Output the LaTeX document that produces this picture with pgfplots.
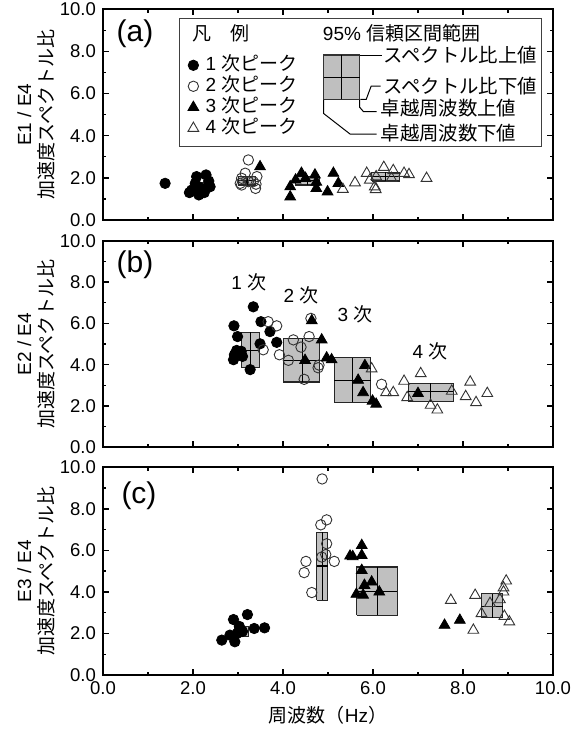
\documentclass[border=0pt]{standalone}
\usepackage{fontspec}
\setmainfont{Liberation Sans}
\newfontfamily\jp{Noto Sans CJK JP}
\usepackage{pgfplots}
\pgfplotsset{compat=1.18}

\pgfplotsset{
  panel/.style={
    width=225pt, scale only axis, xmin=0, xmax=10, ymin=0, ymax=10,
    xtick={0,2,...,10}, ytick={0,2,...,10}, minor x tick num=1, minor y tick num=1,
    tick align=inside, major tick length=3pt, minor tick length=1.6pt,
    axis line style={line width=0.9pt},
    every tick/.append style={black, line width=0.7pt},
    /pgf/number format/fixed, /pgf/number format/fixed zerofill,
    /pgf/number format/precision=1, /pgf/number format/assume math mode=true,
    tick label style={font=\fontsize{9.25}{10}\selectfont},
    ylabel style={at={(axis description cs:-0.149,0.5)}, anchor=center, align=center,
      font=\fontsize{9.5}{11}\selectfont},
  },
  pA/.style={only marks, mark=*, mark size=2.6pt, draw=black, fill=black},
  pB/.style={only marks, mark=o, mark size=2.6pt, draw=black!80, mark options={line width=0.45pt}},
  pC/.style={only marks, mark=triangle*, mark size=3.1pt, draw=black, fill=black},
  pD/.style={only marks, mark=triangle, mark size=3.1pt, draw=black!80, mark options={line width=0.45pt}},
  boxfill/.style={forget plot, mark=none, draw=black!85, line width=0.55pt,
    fill=black!38, fill opacity=0.65},
  boxline/.style={forget plot, mark=none, draw=black, line width=0.55pt},
}
\newcommand{\cibox}[6]{%
  \addplot[boxfill] coordinates {(#1,#3) (#2,#3) (#2,#4) (#1,#4) (#1,#3)};
  \addplot[boxline] coordinates {(#5,#3) (#5,#4)};
  \addplot[boxline] coordinates {(#1,#6) (#2,#6)};
}

\begin{document}
\begin{tikzpicture}
\path[use as bounding box] (0,0) rectangle (289.5pt,-364.5pt);

% ---------------- panel (a)
\begin{axis}[panel, at={(51.5pt,-110pt)}, anchor=south west, height=105.35pt,
  xticklabels={},
  ylabel={E1 / E4\\{\jp 加速度スペクトル比}},
  legend style={at={(axis cs:1.88,7.86)}, anchor=north west, draw=none, fill=none,
    inner sep=0pt, row sep=0pt, font=\fontsize{9.5}{10}\selectfont,
    nodes={text height=7pt, text depth=2pt, inner ysep=0.75pt, inner xsep=3.5pt}},
  legend cell align=left,
  legend image code/.code={\draw[#1] plot coordinates {(0pt,0pt)};},
]
\addplot[pA] coordinates {(1.38,1.74) (2.08,2.06) (2.29,2.14) (1.97,1.42) (2.13,1.19)
  (2.38,1.58) (2.35,1.85) (2.20,1.50) (2.05,1.74) (1.92,1.30) (2.25,1.30) (2.10,1.60)};
\addlegendentry{1 {\jp 次ピーク}}
\addplot[pB] coordinates {(3.23,2.85) (3.08,1.98) (3.42,2.06) (3.05,1.74) (3.39,1.50)
  (3.16,2.22) (3.23,1.82) (3.34,1.82) (3.08,1.66) (3.40,1.70)};
\addlegendentry{2 {\jp 次ピーク}}
\addplot[pC] coordinates {(3.49,2.53) (4.16,1.58) (4.16,1.10) (4.41,2.22) (4.71,2.14)
  (4.74,1.50) (5.12,2.22) (5.23,1.74) (4.99,1.34) (4.28,1.90) (4.50,1.98) (4.74,1.80)};
\addlegendentry{3 {\jp 次ピーク}}
\addplot[pD] coordinates {(5.33,1.46) (5.60,1.77) (5.86,2.22) (5.93,1.90) (6.04,1.58)
  (6.06,1.45) (6.24,2.50) (6.45,2.35) (6.41,1.98) (6.69,2.22) (6.80,2.16) (7.19,1.98) (6.07,2.06)};
\addlegendentry{4 {\jp 次ピーク}}
\cibox{2.03}{2.30}{1.55}{1.77}{2.17}{1.66}
\cibox{3.01}{3.38}{1.66}{2.06}{3.20}{1.86}
\cibox{4.27}{4.82}{1.66}{2.06}{4.54}{1.86}
\cibox{5.97}{6.58}{1.85}{2.26}{6.28}{2.05}
% legend frame and explanation
\draw[line width=0.6pt, draw=black!75] (axis cs:1.70,3.48) rectangle (axis cs:9.75,9.58);
\node[anchor=west, font=\fontsize{9.5}{10}\selectfont\jp, inner sep=0pt] at (axis cs:1.98,8.87) {凡　例};
\node[anchor=west, font=\fontsize{9.5}{10}\selectfont, inner sep=0pt] at (axis cs:4.88,8.87) {95\% {\jp 信頼区間範囲}};
\draw[fill=black!25, draw=black!80, line width=0.55pt] (axis cs:4.90,5.73) rectangle (axis cs:5.70,7.83);
\draw[line width=0.55pt] (axis cs:5.30,5.73) -- (axis cs:5.30,7.83);
\draw[line width=0.55pt] (axis cs:4.90,6.78) -- (axis cs:5.70,6.78);
\draw[line width=0.5pt] (axis cs:5.70,7.83) -- (axis cs:6.20,7.83);
\draw[line width=0.5pt] (axis cs:5.72,5.73) -- (axis cs:5.85,5.73) -- (axis cs:5.96,6.36) -- (axis cs:6.17,6.36);
\draw[line width=0.5pt] (axis cs:5.70,5.70) -- (axis cs:5.70,5.36) -- (axis cs:5.79,5.14) -- (axis cs:6.08,5.14);
\draw[line width=0.5pt] (axis cs:4.90,5.70) -- (axis cs:4.90,5.06) -- (axis cs:5.49,4.08) -- (axis cs:6.08,4.08);
\node[anchor=west, font=\fontsize{9.7}{10}\selectfont\jp, inner sep=0pt] at (axis cs:6.22,7.83) {スペクトル比上値};
\node[anchor=west, font=\fontsize{9.7}{10}\selectfont\jp, inner sep=0pt] at (axis cs:6.22,6.36) {スペクトル比下値};
\node[anchor=west, font=\fontsize{9.7}{10}\selectfont\jp, inner sep=0pt] at (axis cs:6.16,5.30) {卓越周波数上値};
\node[anchor=west, font=\fontsize{9.7}{10}\selectfont\jp, inner sep=0pt] at (axis cs:6.16,4.11) {卓越周波数下値};
\node[font=\fontsize{15}{15}\selectfont] at (axis cs:0.71,8.86) {(a)};
\end{axis}

% ---------------- panel (b)
\begin{axis}[panel, at={(51.5pt,-223.65pt)}, anchor=south west, height=103.3pt,
  xticklabels={},
  ylabel={E2 / E4\\{\jp 加速度スペクトル比}},
]
\addplot[pA] coordinates {(3.34,6.80) (3.51,6.08) (2.91,5.88) (3.71,5.60) (2.99,5.36)
  (3.86,5.08) (3.49,5.01) (2.97,4.69) (2.90,4.24) (2.92,4.48) (3.07,4.65) (3.27,3.76) (3.10,4.40)};
\addplot[pB] coordinates {(3.67,6.08) (3.86,5.88) (3.56,4.72) (3.92,4.48) (4.23,5.20)
  (4.58,5.36) (4.62,6.24) (4.40,4.85) (4.12,4.21) (4.78,3.85) (4.80,3.98) (4.47,3.29) (6.19,3.05)};
\addplot[pC] coordinates {(4.64,6.13) (4.86,5.20) (4.97,4.33) (5.08,4.24) (4.49,4.21)
  (5.82,3.96) (5.67,3.25) (5.78,2.65) (5.99,2.24) (6.07,2.09) (7.00,2.61)};
\addplot[pD] coordinates {(5.97,3.80) (6.29,2.65) (6.45,2.65) (6.69,3.20) (6.76,2.41)
  (7.06,3.57) (7.28,2.04) (7.43,1.81) (7.75,2.72) (8.16,3.16) (8.06,2.46) (8.29,2.17) (8.54,2.61)};
\cibox{3.08}{3.47}{3.85}{5.57}{3.27}{4.69}
\cibox{4.01}{4.82}{3.16}{5.25}{4.44}{4.20}
\cibox{5.14}{5.95}{2.17}{4.33}{5.54}{3.25}
\cibox{6.78}{7.78}{2.23}{3.09}{7.28}{2.68}
\node[font=\fontsize{9.5}{10}\selectfont] at (axis cs:3.24,8.00) {1 {\jp 次}};
\node[font=\fontsize{9.5}{10}\selectfont] at (axis cs:4.40,7.37) {2 {\jp 次}};
\node[font=\fontsize{9.5}{10}\selectfont] at (axis cs:5.60,6.45) {3 {\jp 次}};
\node[font=\fontsize{9.5}{10}\selectfont] at (axis cs:7.27,4.63) {4 {\jp 次}};
\node[font=\fontsize{15}{15}\selectfont] at (axis cs:0.71,8.86) {(b)};
\end{axis}

% ---------------- panel (c)
\begin{axis}[panel, at={(51.5pt,-337.5pt)}, anchor=south west, height=103.85pt,
  ylabel={E3 / E4\\{\jp 加速度スペクトル比}},
  xlabel={{\jp 周波数（}Hz{\jp ）}},
  xlabel style={at={(axis description cs:0.5,0)}, anchor=center, yshift=-20pt,
    font=\fontsize{9.5}{10}\selectfont},
]
\addplot[pA] coordinates {(2.64,1.68) (2.93,1.60) (2.82,1.92) (2.90,2.67) (3.21,2.91)
  (3.36,2.24) (3.59,2.27) (3.03,2.34) (3.10,2.10) (2.98,2.00)};
\addplot[pB] coordinates {(4.87,9.44) (4.97,7.47) (4.84,7.23) (4.97,6.32) (4.86,5.68)
  (4.51,5.47) (5.14,5.47) (4.47,4.93) (4.64,3.97) (4.95,5.80)};
\addplot[pC] coordinates {(5.49,5.73) (5.75,6.24) (5.75,5.76) (5.63,3.89) (5.75,5.04)
  (5.81,4.32) (5.97,4.48) (6.14,4.00) (5.78,3.85) (7.59,2.40) (7.93,2.64) (5.55,5.70)};
\addplot[pD] coordinates {(7.73,3.60) (8.23,2.16) (8.27,3.84) (8.96,4.53) (8.90,4.00)
  (8.82,3.63) (8.60,3.45) (8.41,2.96) (8.92,2.83) (9.03,2.56) (8.90,4.20)};
\cibox{2.93}{3.23}{1.87}{2.32}{3.08}{2.10}
\cibox{4.75}{4.99}{3.60}{6.88}{4.87}{5.25}
\cibox{5.64}{6.54}{2.88}{5.20}{6.10}{4.00}
\cibox{8.41}{8.88}{2.75}{3.92}{8.65}{3.31}
\node[font=\fontsize{15}{15}\selectfont] at (axis cs:0.80,8.63) {(c)};
\end{axis}
\end{tikzpicture}
\end{document}
